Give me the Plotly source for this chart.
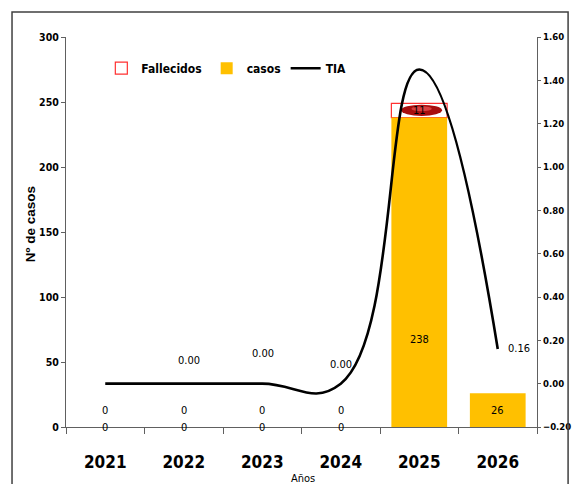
import plotly.graph_objects as go

years = ["2021", "2022", "2023", "2024", "2025", "2026"]
casos = [0, 0, 0, 0, 238, 26]
fallecidos = [0, 0, 0, 0, 11, 0]
tia = [0.00, 0.00, 0.00, 0.00, 1.45, 0.16]

FONT = "Liberation Sans Narrow, DejaVu Sans Condensed, Arial Narrow, sans-serif"
xi = list(range(len(years)))

fig = go.Figure()

fig.add_trace(go.Bar(
    x=xi, y=[f if f > 0 else None for f in fallecidos], name="Fallecidos", base=casos,
    marker=dict(color="rgba(255,255,255,0)", line=dict(color="#FF3030", width=1.2)),
    width=0.71,
))
fig.add_trace(go.Bar(
    x=xi, y=casos, name="casos",
    marker=dict(color="#FFC000", line=dict(width=0)),
    width=0.71,
))
fig.add_trace(go.Scatter(
    x=xi, y=tia, name="TIA", yaxis="y2", mode="lines",
    line=dict(color="black", width=2.6, shape="spline", smoothing=1.3),
))

# ellipse "picture fill" of the Fallecidos boxes, derived from the data
shapes = []
for i, (c, f) in enumerate(zip(casos, fallecidos)):
    if f > 0:
        shapes.append(dict(type="circle", xref="x", yref="y", layer="below",
                           x0=i - 0.23, x1=i + 0.29, y0=c + 0.12 * f, y1=c + 0.9 * f,
                           fillcolor="#A80E0E", line=dict(width=0)))
        shapes.append(dict(type="circle", xref="x", yref="y", layer="below",
                           x0=i - 0.1, x1=i + 0.16, y0=c + 0.45 * f, y1=c + 0.8 * f,
                           fillcolor="#D84040", line=dict(width=0)))
# outer chart frame
shapes.append(dict(type="rect", xref="paper", yref="paper",
                   x0=-0.1146, x1=1.066, y0=-0.3, y1=1.064,
                   line=dict(color="#404040", width=1.5), fillcolor="rgba(0,0,0,0)", layer="above"))

ann = []
lab_font = dict(family=FONT, size=11, color="black")
# casos labels (vertical offsets in px above the axis)
casos_shift = [17, 17, 17, 17, 88, 17]
for i, v in enumerate(casos):
    ann.append(dict(x=i, y=0, xref="x", yref="y", text=str(v), showarrow=False,
                    yshift=casos_shift[i], font=lab_font))
# fallecidos labels
for i, (c, f) in enumerate(zip(casos, fallecidos)):
    if i < 5:
        ann.append(dict(x=i, y=c + f / 2, xref="x", yref="y", text=str(f), showarrow=False,
                        font=lab_font))
# TIA labels
tia_off = {1: (5, 23), 2: (1, 30), 3: (0, 19)}
for i, (dx, dy) in tia_off.items():
    ann.append(dict(x=i, y=tia[i], xref="x", yref="y2", text=f"{tia[i]:.2f}",
                    showarrow=False, xshift=dx, yshift=dy, font=lab_font))
ann.append(dict(x=5, y=tia[5], xref="x", yref="y2", text=f"{tia[5]:.2f}",
                showarrow=False, xanchor="left", xshift=8, yshift=1, font=lab_font))
# axis titles
ann.append(dict(x=-0.0764, y=0.52, xref="paper", yref="paper", text="Nº de casos",
                xanchor="center", yanchor="middle", textangle=-90, showarrow=False,
                font=dict(family="Liberation Sans, Arial, sans-serif", size=13.5, color="black", weight="bold")))
ann.append(dict(x=0.503, y=-0.131, xref="paper", yref="paper", text="Años",
                xanchor="center", yanchor="middle", showarrow=False,
                font=dict(family=FONT, size=11, color="black")))

boundaries = [i - 0.5 for i in range(len(years) + 1)]

fig.update_layout(
    width=565, height=476,
    margin=dict(l=58, r=36, t=29, b=57, autoexpand=False),
    paper_bgcolor="white", plot_bgcolor="white",
    barmode="overlay",
    font=dict(family=FONT, color="black"),
    showlegend=True,
    legend=dict(orientation="h", x=0.075, y=0.92, xanchor="left", yanchor="middle",
                traceorder="normal",
                font=dict(family=FONT, size=12, color="black", weight="bold"),
                bgcolor="rgba(0,0,0,0)"),
    xaxis=dict(range=[-0.5, len(years) - 0.5], tickmode="array", tickvals=xi, ticktext=years,
               tickangle=0, showgrid=False, zeroline=False, showline=True, linecolor="#606060",
               linewidth=1.2, ticks="", ticklabelstandoff=19, automargin=False,
               tickfont=dict(family=FONT, size=17, color="black", weight="bold"),
               minor=dict(tickmode="array", tickvals=boundaries, ticks="outside", ticklen=6,
                          tickcolor="#606060", showgrid=False)),
    yaxis=dict(range=[0, 300], dtick=50, showgrid=False, zeroline=False, showline=True,
               linecolor="#606060", linewidth=1.2, ticks="outside", ticklen=4, tickcolor="#606060",
               automargin=False,
               tickfont=dict(family=FONT, size=10.5, color="black", weight="bold")),
    yaxis2=dict(range=[-0.2, 1.6], dtick=0.2, tickformat=".2f", overlaying="y", side="right",
                showgrid=False, zeroline=False, showline=True, linecolor="#606060", linewidth=1.2,
                ticks="outside", ticklen=3, tickcolor="#606060", automargin=False,
                tickfont=dict(family=FONT, size=9.5, color="black", weight="bold")),
    shapes=shapes, annotations=ann,
)

fig.write_html("out.html")
